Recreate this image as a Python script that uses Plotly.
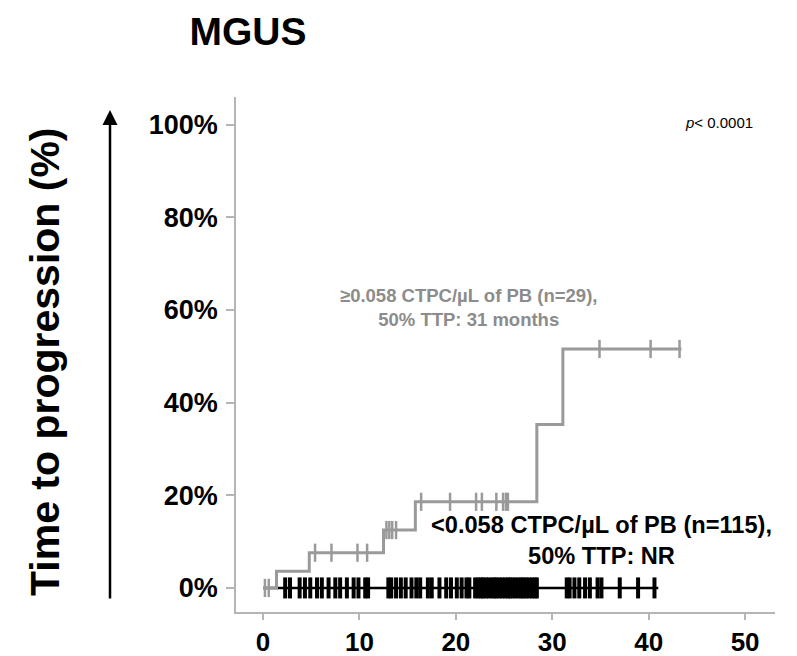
import numpy as np
import plotly.graph_objects as go

# ---- data ----
hi_step_t = [0, 1.4, 4.8, 12.5, 15.8, 28.4, 31.1, 43.4]
hi_step_v = [0, 3.6, 7.6, 12.5, 18.6, 35.3, 51.6, 51.6]
hi_censor_t = [0.2, 0.6, 5.4, 7.1, 9.8, 10.8, 12.8, 13.1, 13.4, 13.8, 16.4, 19.4,
               22.1, 22.7, 24.2, 24.9, 25.2, 25.4, 34.9, 40.2, 43.2]

lo_step_t = [0, 41.0]
lo_step_v = [0, 0]
lo_censor_t = [2.3, 2.8, 3.8, 4.35, 4.9, 5.6, 6.1, 6.8, 7.5, 8.0, 8.7, 9.4, 9.9, 10.6, 10.9,
               13.0, 13.3, 13.8, 14.3, 14.8, 15.4, 15.9, 16.3, 17.1, 17.5, 18.3,
               19.0, 19.5, 20.1, 20.6, 21.1, 21.4,
               22.0, 22.3, 22.6, 22.8, 23.1, 23.4, 23.7, 24.0, 24.2, 24.5, 24.8, 25.1,
               25.4, 25.6, 25.9, 26.2, 26.5, 26.8, 27.0, 27.3, 27.6, 27.9, 28.2, 28.4,
               31.5, 31.8, 32.3, 32.8, 33.4, 33.9, 34.7, 35.1, 37.0, 38.9, 40.6]

x_ticks = [0, 10, 20, 30, 40, 50]
y_ticks = [0, 20, 40, 60, 80, 100]
y_ticklabels = ["0%", "20%", "40%", "60%", "80%", "100%"]

title_text = "MGUS"
ytitle_text = "Time to progression (%)"
hi_label = "≥0.058 CTPC/µL of PB (n=29),<br>50% TTP: 31 months"
lo_label = "&lt;0.058 CTPC/µL of PB (n=115),<br>50% TTP: NR"
p_label = "<i>p</i>&lt; 0.0001"

GRAY = "#9a9a9a"
FONT = "Liberation Sans, Arial, sans-serif"

# page body adds an 8px offset, so the figure is sized to fit the visible window
W, H = 789, 648
L, R, T, B = 228, 22, 89, 44
PW, PH = W - L - R, H - T - B


def step_level(ts, vs, t):
    idx = np.searchsorted(np.array(ts), np.array(t), side="right") - 1
    return list(np.array(vs)[idx])


fig = go.Figure()

fig.add_trace(go.Scatter(x=lo_step_t, y=lo_step_v, mode="lines", line=dict(color="black", width=2.5, shape="hv"),
                         hoverinfo="skip", showlegend=False))
fig.add_trace(go.Scatter(x=hi_step_t, y=hi_step_v, mode="lines", line=dict(color=GRAY, width=3, shape="hv"),
                         hoverinfo="skip", showlegend=False))
fig.add_trace(go.Scatter(x=lo_censor_t, y=step_level(lo_step_t, lo_step_v, lo_censor_t), mode="markers",
                         marker=dict(symbol="line-ns", size=15, line=dict(color="black", width=4)),
                         showlegend=False))
fig.add_trace(go.Scatter(x=hi_censor_t, y=step_level(hi_step_t, hi_step_v, hi_censor_t), mode="markers",
                         marker=dict(symbol="line-ns", size=13, line=dict(color=GRAY, width=2.5)),
                         showlegend=False))

fig.update_layout(
    width=W, height=H,
    margin=dict(l=L, r=R, t=T, b=B, autoexpand=False),
    paper_bgcolor="white", plot_bgcolor="white",
    showlegend=False,
    title=dict(text=title_text, x=240 / W, xanchor="center", y=1 - 23 / H, yanchor="middle",
               font=dict(family=FONT, size=39, color="black", weight="bold")),
    xaxis=dict(range=[-2.8, 53.1], tickvals=x_ticks, showgrid=False, zeroline=False,
               showline=True, linecolor="#b5b5b5", linewidth=1.5,
               ticks="outside", ticklen=6, tickcolor="#b5b5b5", tickwidth=1.5,
               tickfont=dict(family=FONT, size=26, color="black", weight="bold"),
               ticklabelstandoff=0, automargin=False),
    yaxis=dict(range=[-5.2, 106], tickvals=y_ticks, ticktext=y_ticklabels, showgrid=False, zeroline=False,
               showline=True, linecolor="#b5b5b5", linewidth=1.5,
               ticks="outside", ticklen=8, tickcolor="#b5b5b5", tickwidth=1.5,
               tickfont=dict(family=FONT, size=27, color="black", weight="bold"),
               ticklabelstandoff=3, automargin=False),
)

fig.add_annotation(text=ytitle_text, xref="paper", yref="paper", x=(37 - L) / PW, y=(H - B - 354) / PH,
                   textangle=-90, showarrow=False, xanchor="center", yanchor="middle",
                   font=dict(family=FONT, size=41, color="black", weight="bold"))
fig.add_annotation(text="", xref="paper", yref="paper", x=(102 - L) / PW, y=(H - B - 102) / PH,
                   ax=0, ay=490, showarrow=True, arrowhead=2, arrowsize=1.2, arrowwidth=2.5, arrowcolor="black")
fig.add_annotation(text=hi_label, x=21.3, y=60.5, showarrow=False, xanchor="center", yanchor="middle",
                   font=dict(family=FONT, size=18.5, color="#8c8c8c", weight="bold"))
fig.add_annotation(text=lo_label, x=35.1, y=10.2, showarrow=False, xanchor="center", yanchor="middle",
                   font=dict(family=FONT, size=23.6, color="black", weight="bold"))
fig.add_annotation(text=p_label, x=47.3, y=100.6, showarrow=False, xanchor="center", yanchor="middle",
                   font=dict(family=FONT, size=15, color="black"))

fig.write_html("out.html")
